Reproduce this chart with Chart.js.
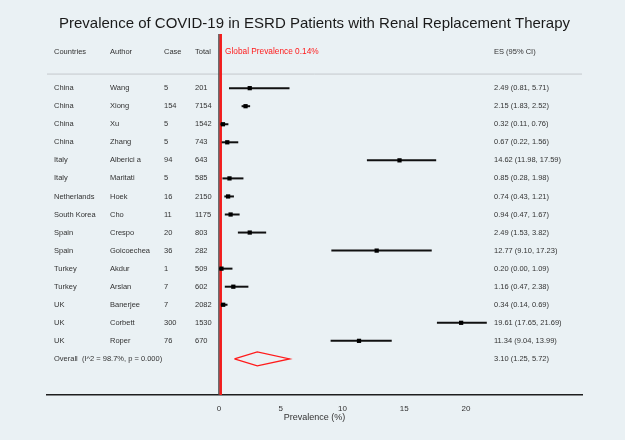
<!DOCTYPE html>
<html>
<head>
<meta charset="utf-8">
<script src="https://cdn.jsdelivr.net/npm/chart.js@4.4.1/dist/chart.umd.min.js"></script>
<style>
  html, body { margin: 0; padding: 0; background: #eaf1f4; overflow: hidden; }
  #forest { display: block; }
</style>
</head>
<body>
<canvas id="forest" width="625" height="440"></canvas>
<script>
"use strict";

// study data
const countries = ["China", "China", "China", "China", "Italy", "Italy", "Netherlands", "South Korea",
    "Spain", "Spain", "Turkey", "Turkey", "UK", "UK", "UK"];
const authors = ["Wang", "Xiong", "Xu", "Zhang", "Alberici a", "Maritati", "Hoek", "Cho",
    "Crespo", "Goicoechea", "Akdur", "Arslan", "Banerjee", "Corbett", "Roper"];
const cases = [5, 154, 5, 5, 94, 5, 16, 11, 20, 36, 1, 7, 7, 300, 76];
const totals = [201, 7154, 1542, 743, 643, 585, 2150, 1175, 803, 282, 509, 602, 2082, 1530, 670];
const es = [2.49, 2.15, 0.32, 0.67, 14.62, 0.85, 0.74, 0.94, 2.49, 12.77, 0.20, 1.16, 0.34, 19.61, 11.34];
const lower = [0.81, 1.83, 0.11, 0.22, 11.98, 0.28, 0.43, 0.47, 1.53, 9.10, 0.00, 0.47, 0.14, 17.65, 9.04];
const upper = [5.71, 2.52, 0.76, 1.56, 17.59, 1.98, 1.21, 1.67, 3.82, 17.23, 1.09, 2.38, 0.69, 21.69, 13.99];

const overallEs = 3.10;
const overallLo = 1.25;
const overallHi = 5.72;
const overallLabel = "Overall  (I^2 = 98.7%, p = 0.000)";
const globalPrevalence = 0.14;

const xTicks = [0, 5, 10, 15, 20];

// row layout: header on row 0, studies from row 2, overall after them
const headerRow = 0;
const firstRow = 2;
const overallRow = firstRow + authors.length;
const sepRow = 1.22;
const yMin = -1, yMax = 19;
const diamondHalf = 0.39;

const fmt = v => v.toFixed(2);
const ciText = (e, l, h) => fmt(e) + " (" + fmt(l) + ", " + fmt(h) + ")";

const FONT = "'Liberation Sans', Arial, sans-serif";
const TXT = "#333333";

const ciSets = authors.map((a, i) => ({
    type: 'line',
    data: [{x: lower[i], y: firstRow + i}, {x: upper[i], y: firstRow + i}],
    borderColor: '#111111',
    borderWidth: 2,
    pointRadius: 0,
    order: 2
}));

const bgPlugin = {
    id: 'bg',
    beforeDraw(chart) {
        const ctx = chart.ctx;
        ctx.save();
        ctx.fillStyle = '#eaf1f4';
        ctx.fillRect(0, 0, chart.width, chart.height);
        ctx.restore();
    }
};

// table columns drawn next to the plot
const tablePlugin = {
    id: 'table',
    afterDatasetsDraw(chart) {
        const ctx = chart.ctx;
        const ys = chart.scales.y;
        const cols = {country: 54, author: 110, cases: 164, total: 195, es: 494};
        ctx.save();
        ctx.font = "7.5px " + FONT;
        ctx.fillStyle = TXT;
        ctx.textBaseline = 'middle';
        ctx.textAlign = 'left';

        let y = ys.getPixelForValue(headerRow);
        ctx.fillText("Countries", cols.country, y);
        ctx.fillText("Author", cols.author, y);
        ctx.fillText("Case", cols.cases, y);
        ctx.fillText("Total", cols.total, y);
        ctx.fillText("ES (95% CI)", cols.es, y);

        for (let i = 0; i < authors.length; i++) {
            y = ys.getPixelForValue(firstRow + i);
            ctx.fillText(countries[i], cols.country, y);
            ctx.fillText(authors[i], cols.author, y);
            ctx.fillText(String(cases[i]), cols.cases, y);
            ctx.fillText(String(totals[i]), cols.total, y);
            ctx.fillText(ciText(es[i], lower[i], upper[i]), cols.es, y);
        }
        y = ys.getPixelForValue(overallRow);
        ctx.fillText(overallLabel, cols.country, y);
        ctx.fillText(ciText(overallEs, overallLo, overallHi), cols.es, y);

        ctx.font = "8.3px " + FONT;
        ctx.fillStyle = '#ff1a1a';
        ctx.fillText("Global Prevalence " + globalPrevalence.toFixed(2) + "%", 225, ys.getPixelForValue(headerRow));
        ctx.restore();
    }
};

new Chart(document.getElementById('forest'), {
    type: 'scatter',
    data: {
        datasets: [
            {
                type: 'line',
                data: [{x: -13.93, y: sepRow}, {x: 29.4, y: sepRow}],
                borderColor: '#c4c8cc',
                borderWidth: 1,
                pointRadius: 0,
                order: 5
            },
            {
                type: 'line',
                data: [{x: 0, y: yMin}, {x: 0, y: yMax}],
                borderColor: '#444444',
                borderWidth: 1.5,
                pointRadius: 0,
                order: 4
            },
            {
                type: 'line',
                data: [{x: globalPrevalence, y: yMin}, {x: globalPrevalence, y: yMax}],
                borderColor: '#f21d1d',
                borderWidth: 2.5,
                pointRadius: 0,
                order: 3
            },
            ...ciSets,
            {
                type: 'scatter',
                data: es.map((v, i) => ({x: v, y: firstRow + i})),
                backgroundColor: '#000000',
                borderWidth: 0,
                pointStyle: 'rect',
                pointRadius: 3,
                order: 1
            },
            {
                type: 'line',
                data: [
                    {x: overallLo, y: overallRow},
                    {x: overallEs, y: overallRow - diamondHalf},
                    {x: overallHi, y: overallRow},
                    {x: overallEs, y: overallRow + diamondHalf},
                    {x: overallLo, y: overallRow}
                ],
                borderColor: '#ff1a1a',
                borderWidth: 1.3,
                pointRadius: 0,
                tension: 0,
                order: 1
            }
        ]
    },
    options: {
        responsive: false,
        animation: false,
        devicePixelRatio: 1,
        layout: {padding: {left: 47, right: 43, top: 0, bottom: 16.6}},
        plugins: {
            legend: {display: false},
            tooltip: {enabled: false},
            title: {
                display: true,
                text: "Prevalence of COVID-19 in ESRD Patients with Renal Replacement Therapy",
                color: '#1a1a1a',
                font: {family: FONT, size: 15, weight: 'normal'},
                padding: {top: 15, bottom: 1}
            }
        },
        scales: {
            x: {
                type: 'linear',
                min: -13.93,
                max: 29.4,
                afterBuildTicks: scale => { scale.ticks = xTicks.map(v => ({value: v})); },
                grid: {display: false, drawTicks: false, tickLength: 0},
                border: {display: true, color: '#1e1e1e', width: 1.5},
                ticks: {color: TXT, font: {family: FONT, size: 8}, padding: 9},
                title: {
                    display: true,
                    text: "Prevalence (%)",
                    color: TXT,
                    font: {family: FONT, size: 9},
                    padding: {top: -10, bottom: 0}
                }
            },
            y: {
                type: 'linear',
                reverse: true,
                min: yMin,
                max: yMax,
                display: false
            }
        }
    },
    plugins: [bgPlugin, tablePlugin]
});
</script>
</body>
</html>
